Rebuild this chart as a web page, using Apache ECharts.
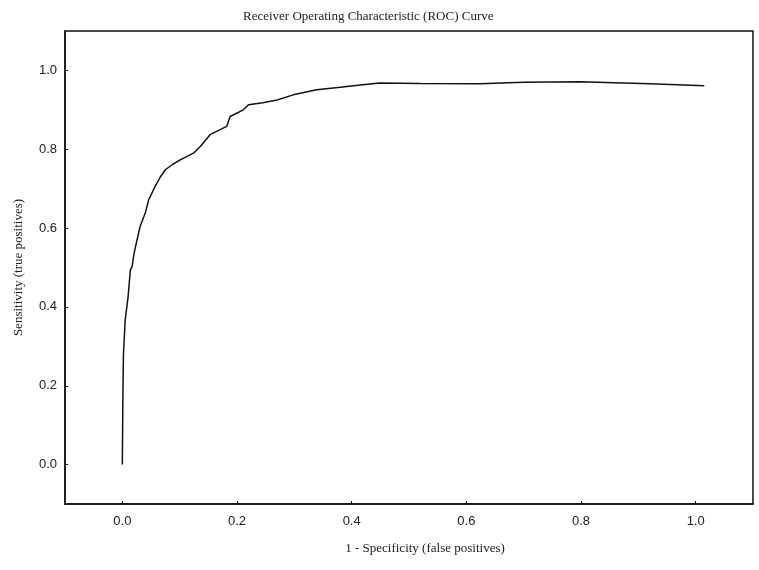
<!DOCTYPE html>
<html>
<head>
<meta charset="utf-8">
<script src="https://cdn.jsdelivr.net/npm/echarts@6/dist/echarts.min.js"></script>
<style>
  html, body { margin: 0; padding: 0; background: #fff; }
  #roc { width: 759px; height: 570px; }
</style>
</head>
<body>
<div id="roc"></div>
<script>
// 1 - specificity (false positive rate)
var fpr = [0, 0.001, 0.002, 0.005, 0.010, 0.011, 0.014, 0.017, 0.020, 0.023,
  0.031, 0.040, 0.046, 0.057, 0.066, 0.075, 0.088, 0.101, 0.124, 0.136, 0.153,
  0.182, 0.188, 0.211, 0.220, 0.245, 0.270, 0.298, 0.339, 0.380, 0.415, 0.449,
  0.520, 0.624, 0.700, 0.798, 0.920, 1.015];
// sensitivity (true positive rate)
var tpr = [0, 0.180, 0.283, 0.367, 0.425, 0.443, 0.494, 0.502, 0.532, 0.553,
  0.604, 0.638, 0.672, 0.705, 0.729, 0.748, 0.762, 0.773, 0.790, 0.807, 0.837,
  0.858, 0.883, 0.900, 0.913, 0.918, 0.925, 0.938, 0.951, 0.957, 0.963, 0.968,
  0.967, 0.966, 0.970, 0.971, 0.966, 0.961];
var tickValues = [0, 0.2, 0.4, 0.6, 0.8, 1.0];

var points = fpr.map(function (x, i) { return [x, tpr[i]]; });

var myChart = echarts.init(document.getElementById('roc'));
var serif = '"Liberation Serif", "DejaVu Serif", serif';
var sans = '"Liberation Sans", Arial, sans-serif';

option = {
  backgroundColor: '#fff',
  animation: false,
  title: {
    text: 'Receiver Operating Characteristic (ROC) Curve',
    left: 238,
    top: 5,
    textStyle: { fontFamily: serif, fontSize: 13, fontWeight: 'normal', color: '#222' }
  },
  grid: {
    left: 65, right: 6, top: 31, bottom: 66,
    show: true,
    borderColor: '#111',
    borderWidth: 1.5
  },
  xAxis: {
    type: 'value',
    min: -0.1,
    max: 1.1,
    name: '1 - Specificity (false positives)',
    nameLocation: 'middle',
    nameGap: 38,
    nameTextStyle: { fontFamily: serif, fontSize: 13, color: '#222', padding: [0, 0, 0, 32] },
    axisLine: { show: true, onZero: false, lineStyle: { color: '#111', width: 1.5 } },
    axisTick: { show: true, inside: true, length: 3, customValues: tickValues, lineStyle: { color: '#111' } },
    axisLabel: {
      customValues: tickValues,
      margin: 11,
      fontFamily: sans,
      fontSize: 13,
      color: '#222',
      formatter: function (v) { return v.toFixed(1); }
    },
    splitLine: { show: false }
  },
  yAxis: {
    type: 'value',
    min: -0.1,
    max: 1.1,
    name: 'Sensitivity (true positives)',
    nameLocation: 'middle',
    nameGap: 40,
    nameTextStyle: { fontFamily: serif, fontSize: 13, color: '#222' },
    axisLine: { show: true, onZero: false, lineStyle: { color: '#111', width: 1.5 } },
    axisTick: { show: true, inside: true, length: 3, customValues: tickValues, lineStyle: { color: '#111' } },
    axisLabel: {
      customValues: tickValues,
      margin: 8,
      fontFamily: sans,
      fontSize: 13,
      color: '#222',
      formatter: function (v) { return v.toFixed(1); }
    },
    splitLine: { show: false }
  },
  series: [
    {
      type: 'line',
      data: points,
      showSymbol: false,
      symbol: 'none',
      lineStyle: { color: '#111', width: 1.5 }
    }
  ]
};

myChart.setOption(option);
</script>
</body>
</html>
